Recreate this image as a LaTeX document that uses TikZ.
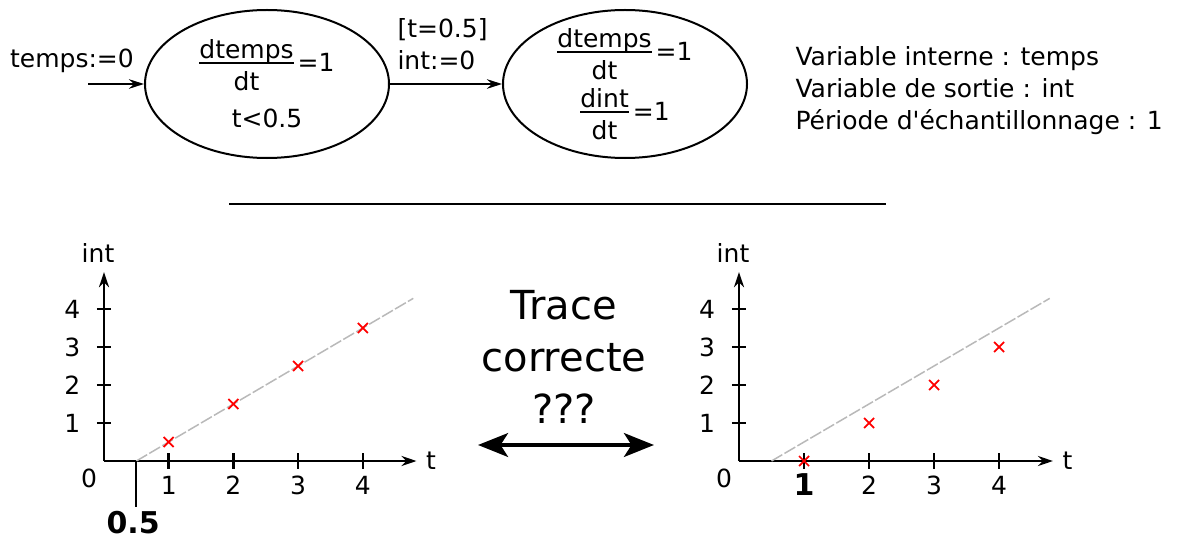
\documentclass[tikz,border=0pt]{standalone}
\usepackage{amsmath}
\usepackage{fontspec}
\setmainfont{DejaVu Sans}
\newfontfamily\droit{DejaVu Sans}
\usetikzlibrary{shapes.geometric,arrows.meta,positioning}

\tikzset{
  etat/.style={draw, ellipse, line width=0.8pt, minimum width=97.6pt, minimum height=59.2pt, inner xsep=0pt, inner ysep=-10pt, align=center},
  fleche/.style={-{Stealth[length=6pt,width=3.8pt]}, line width=0.8pt},
  axe/.style={-{Stealth[length=6pt,width=4pt]}, line width=1pt},
  graduation/.style={line width=1pt},
  croix/.style={red, line width=0.7pt},
  courbe/.style={gray!55, line width=0.6pt, dash pattern=on 5pt off 1pt},
}
% fraction serree : d#1 / dt = 1
\newcommand{\deriv}[1]{$\vcenter{\halign{\hfil##\hfil\cr
    \setbox0\hbox{d#1}\dp0=0pt\box0\cr
    \noalign{\kern1.4pt\hrule height0.8pt\kern3pt}
    dt\cr}}$\kern1.6pt=1}

\begin{document}
\begin{tikzpicture}[x=0.4pt, y=-0.4pt, font=\fontsize{10}{12}\selectfont]
    \useasboundingbox (0,0) rectangle (1178,539);

    % Automate hybride
    \node[etat] (s1) at (267,84) {\deriv{temps}\\[6.3pt] t<0.5};
    \node[etat] (s2) at (625,84) {\deriv{temps}\\[2.5pt] \deriv{int}};
    \coordinate (debut) at (88,84);
    \node (init) at (72,61) {temps:=0};
    \draw[fleche] (debut) -- (s1);
    \draw[fleche] (s1) -- (s2);
    \node[anchor=west, align=left, inner sep=0pt] (garde) at (397,44) {[t=0.5]\\[1pt]int:=0};

    % Legende
    \node[anchor=west, align=left, inner sep=0pt, font=\fontsize{10}{12.8}\droit] (legende) at (795,91)
        {Variable interne : temps\\Variable de sortie : int\\P\'eriode d'\'echantillonnage : 1};

    % Separateur
    \coordinate (sepA) at (229,204);
    \coordinate (sepB) at (886,204);
    \draw[line width=0.8pt] (sepA) -- (sepB);

    % Trace de gauche
    \begin{scope}[shift={(104,461)}, x=25.88pt, y=15.2pt]
        \draw[axe] (0,0) -- (4.83,0) node[right] (tG) {t};
        \draw[axe] (0,0) -- (0,4.97) node[above, xshift=-2.4pt] (intG) {int};
        \node (zeroG) at (-0.23,-0.45) {0};
        \foreach \i in {1,...,4} {
            \draw[graduation] (\i,-0.21) -- (\i,0.21);
            \draw[graduation] (-0.11,\i) -- (0.11,\i);
            \node (xG\i) at (\i,-0.63) {\i};
            \node (yG\i) at (-0.49,\i) {\i};
        }
        \draw[courbe] (0.5,0) -- (4.78,4.28);
        \foreach \i/\v in {1/0.5, 2/1.5, 3/2.5, 4/3.5}
            \draw[croix] (\i,\v) +(-2pt,-2pt) -- +(2pt,2pt) +(-2pt,2pt) -- +(2pt,-2pt);
        \draw[line width=0.8pt] (0.5,0) -- (0.5,-1.21);
        \node[font=\fontsize{12}{14}\selectfont\bfseries] (demi) at (0.45,-1.62) {0.5};
    \end{scope}

    % Trace de droite
    \begin{scope}[shift={(739,461)}, x=26pt, y=15.2pt]
        \draw[axe] (0,0) -- (4.83,0) node[right] (tD) {t};
        \draw[axe] (0,0) -- (0,4.97) node[above, xshift=-2.4pt] (intD) {int};
        \node (zeroD) at (-0.23,-0.45) {0};
        \foreach \i in {1,...,4} {
            \draw[graduation] (\i,-0.21) -- (\i,0.21);
            \draw[graduation] (-0.11,\i) -- (0.11,\i);
            \node (yD\i) at (-0.49,\i) {\i};
        }
        \node[font=\fontsize{12}{14}\selectfont\bfseries] (xD1) at (1,-0.63) {1};
        \foreach \i in {2,3,4}
            \node (xD\i) at (\i,-0.63) {\i};
        \draw[courbe] (0.5,0) -- (4.78,4.28);
        \foreach \i/\v in {1/0, 2/1, 3/2, 4/3}
            \draw[croix] (\i,\v) +(-2pt,-2pt) -- +(2pt,2pt) +(-2pt,2pt) -- +(2pt,-2pt);
    \end{scope}

    % Question centrale
    \node[align=center, font=\fontsize{16}{20.8}\selectfont] (question) at (564,357) {Trace\\correcte\\???};
    \coordinate (flG) at (478,445);
    \coordinate (flD) at (654,445);
    \draw[line width=1.6pt, {Stealth[length=12pt,width=9.5pt,inset=3pt]}-{Stealth[length=12pt,width=9.5pt,inset=3pt]}] (flG) -- (flD);
\end{tikzpicture}
\end{document}
